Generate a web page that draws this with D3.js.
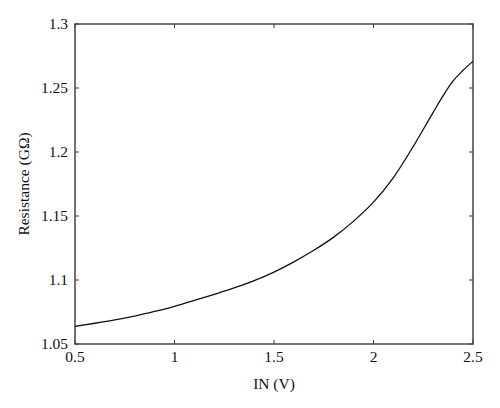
<!DOCTYPE html>
<html><head><meta charset="utf-8">
<script src="https://cdn.jsdelivr.net/npm/d3@7"></script>
<style>body{margin:0;background:#fff}svg{display:block}</style>
</head><body>
<script>
const xVals = [0.5,0.6,0.7,0.8,0.9,1.0,1.1,1.2,1.3,1.4,1.5,1.6,1.7,1.8,1.9,2.0,2.1,2.2,2.3,2.35,2.4,2.45,2.5];
const yVals = [1.0638,1.0662,1.0688,1.0718,1.0754,1.0794,1.0840,1.0888,1.0938,1.0995,1.1062,1.1142,1.1232,1.1335,1.1460,1.1608,1.1800,1.2044,1.2310,1.2440,1.2555,1.2638,1.2708];
const xTicks = [0.5,1,1.5,2,2.5];
const yTicks = [1.05,1.1,1.15,1.2,1.25,1.3];
const xTickLabels = ["0.5","1","1.5","2","2.5"];
const yTickLabels = ["1.05","1.1","1.15","1.2","1.25","1.3"];

const W=500,H=408, L=75,R=473,T=24,B=344;
const FONT="'Liberation Serif', 'Times New Roman', Times, serif";
const svg=d3.select("body").append("svg").attr("width",W).attr("height",H)
  .attr("font-family",FONT);
const x=d3.scaleLinear().domain([0.5,2.5]).range([L,R]);
const y=d3.scaleLinear().domain([1.05,1.3]).range([B,T]);

const g=svg.append("g");
const tl=4;
xTicks.forEach(v=>{
  g.append("line").attr("x1",x(v)).attr("x2",x(v)).attr("y1",B).attr("y2",B-tl).attr("stroke","#333");
  g.append("line").attr("x1",x(v)).attr("x2",x(v)).attr("y1",T).attr("y2",T+tl).attr("stroke","#333");
});
yTicks.forEach(v=>{
  g.append("line").attr("x1",L).attr("x2",L+tl).attr("y1",y(v)).attr("y2",y(v)).attr("stroke","#333");
  g.append("line").attr("x1",R).attr("x2",R-tl).attr("y1",y(v)).attr("y2",y(v)).attr("stroke","#333");
});
xTicks.forEach((v,i)=>{
  g.append("text").attr("x",x(v)).attr("y",B+18).attr("text-anchor","middle").attr("font-size",15.5).attr("fill","#111").text(xTickLabels[i]);
});
yTicks.forEach((v,i)=>{
  g.append("text").attr("x",L-7).attr("y",y(v)+5).attr("text-anchor","end").attr("font-size",15.5).attr("fill","#111").text(yTickLabels[i]);
});
g.append("rect").attr("x",L).attr("y",T).attr("width",R-L).attr("height",B-T).attr("fill","none").attr("stroke","#444").attr("stroke-width",1.5);
const line=d3.line().x((d,i)=>x(xVals[i])).y((d,i)=>y(yVals[i])).curve(d3.curveMonotoneX);
g.append("path").datum(yVals).attr("d",line).attr("fill","none").attr("stroke","#111").attr("stroke-width",1.3);
svg.append("text").attr("x",(L+R)/2).attr("y",389).attr("text-anchor","middle").attr("font-size",15.5).attr("fill","#111").text("IN (V)");
svg.append("text").attr("transform",`translate(29,${(T+B)/2}) rotate(-90)`).attr("text-anchor","middle").attr("font-size",15.5).attr("fill","#111").text("Resistance (GΩ)");
</script>
</body></html>
